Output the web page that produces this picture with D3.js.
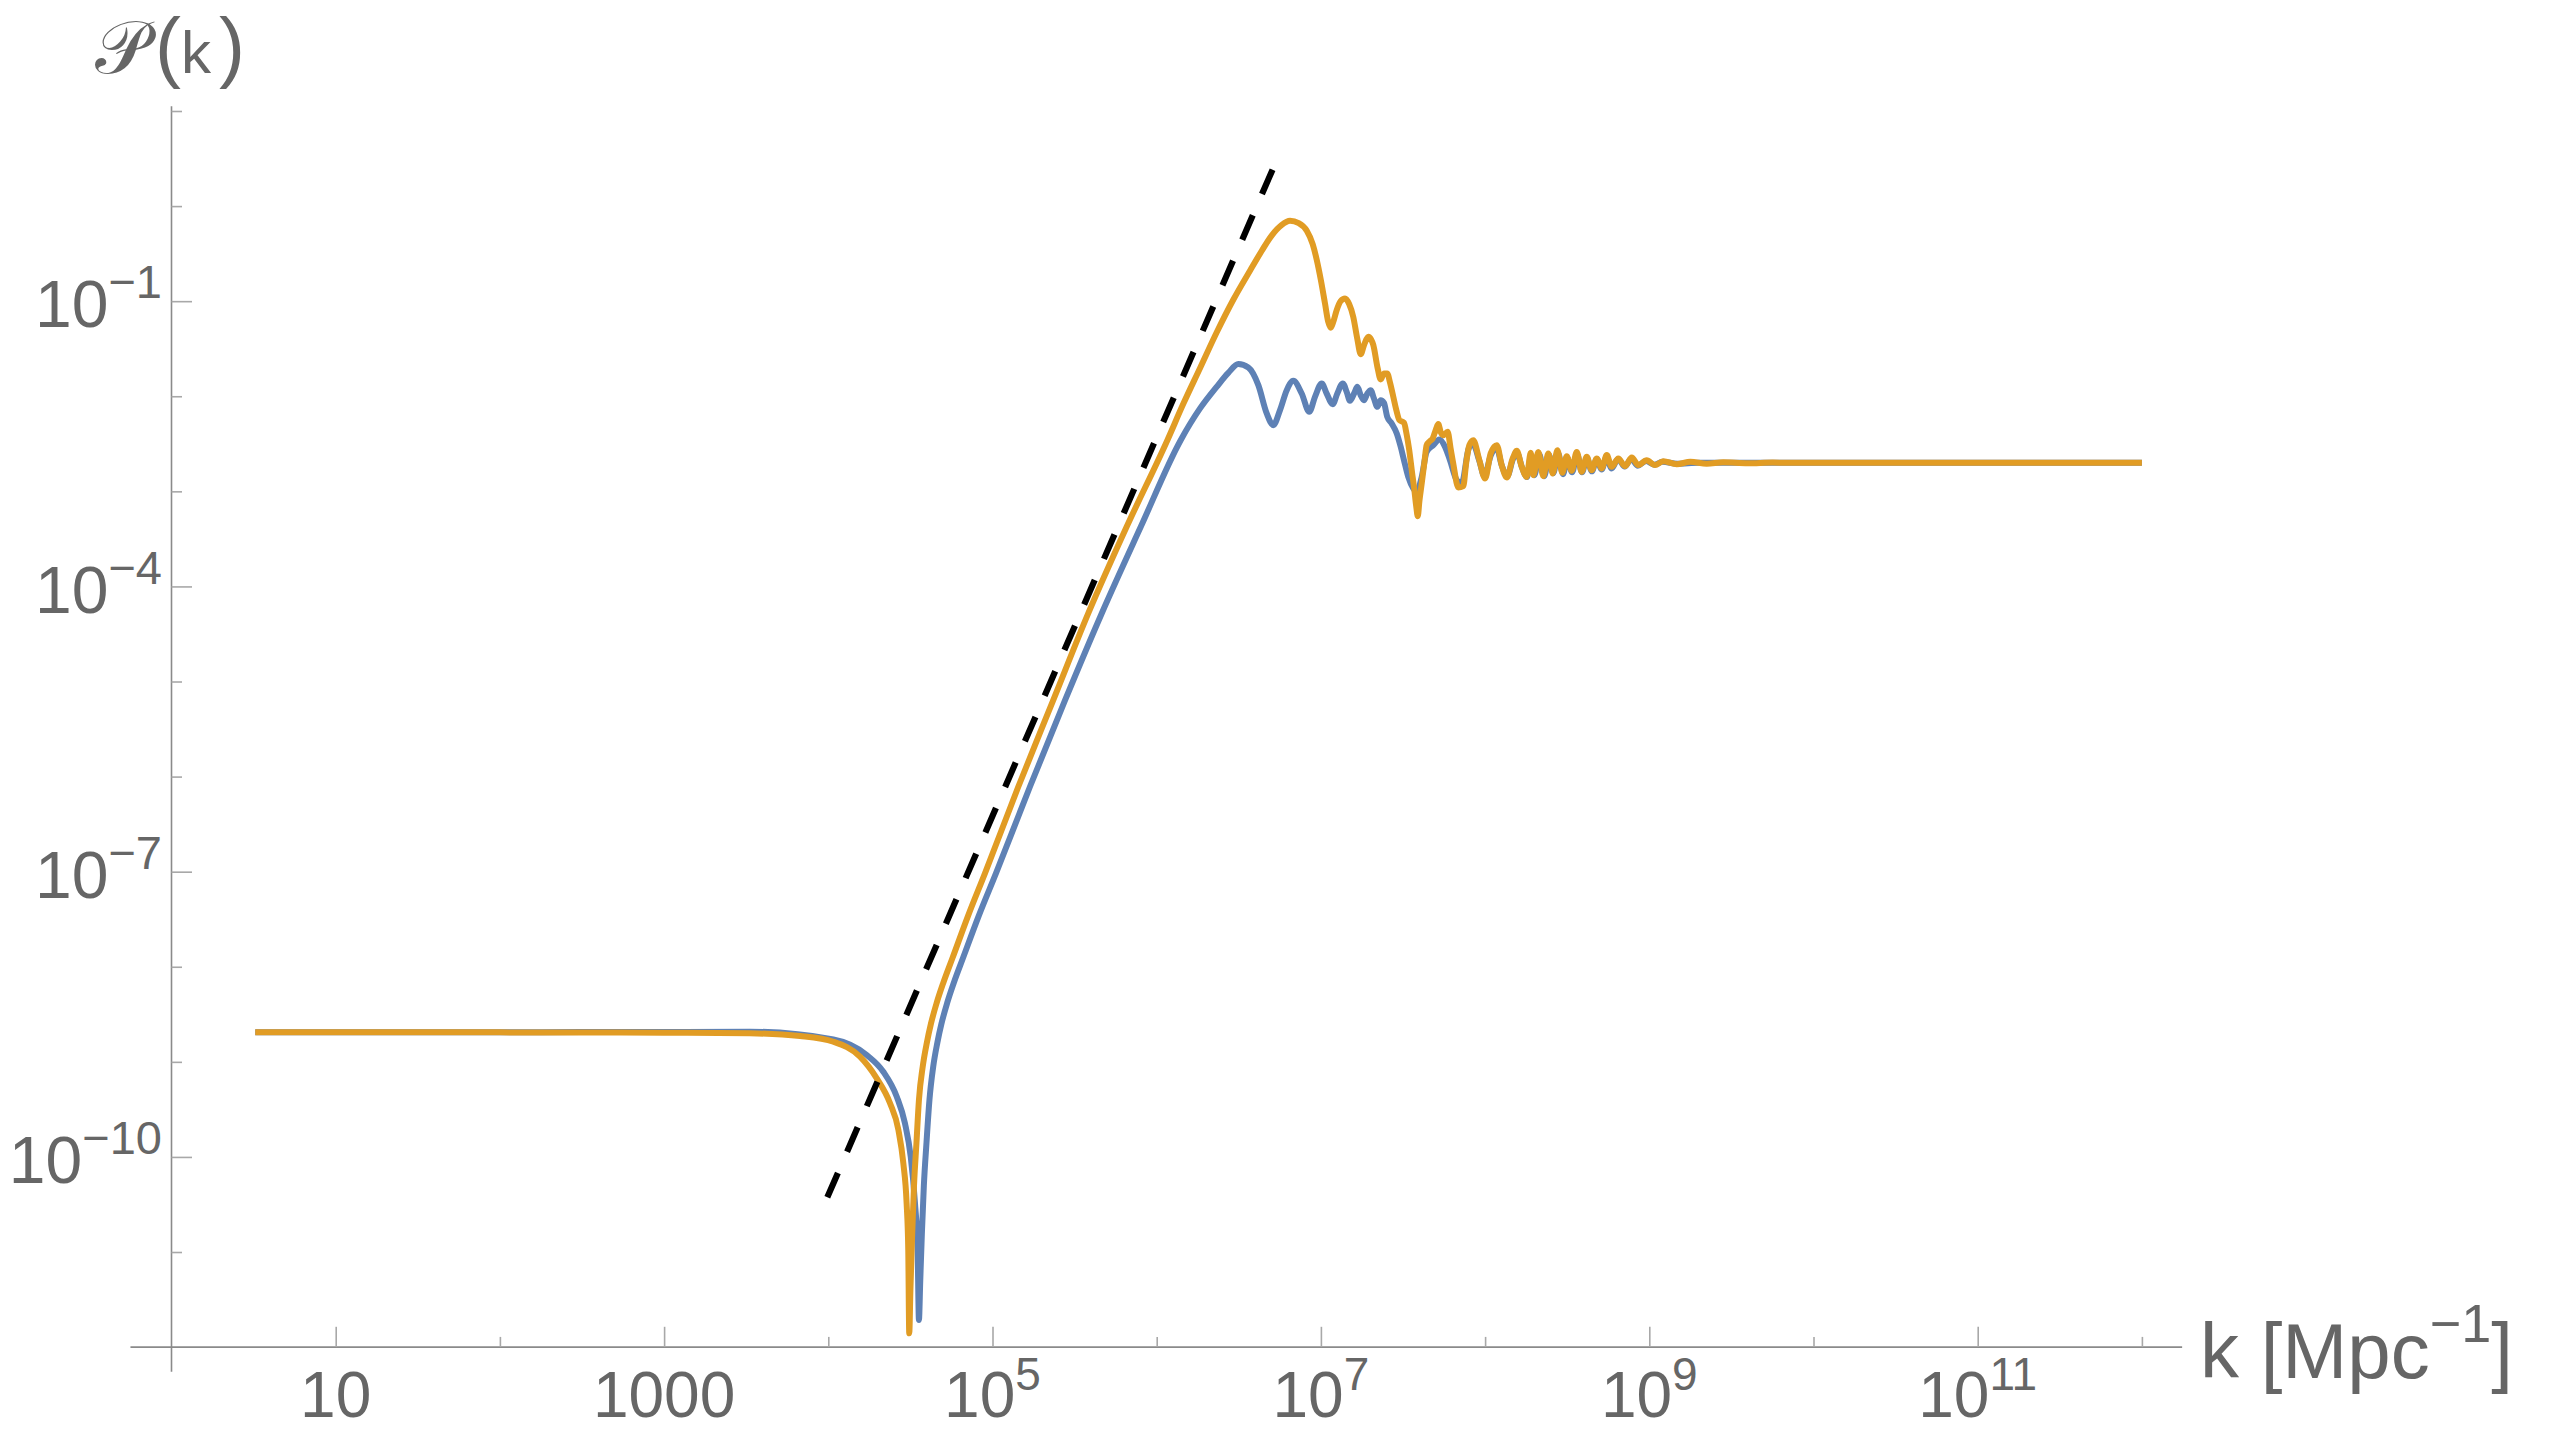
<!DOCTYPE html>
<html><head><meta charset="utf-8">
<script src="https://cdn.jsdelivr.net/npm/d3@7"></script>
<style>
html,body{margin:0;padding:0;background:#fff;}
svg{display:block;}
text{font-family:"Liberation Sans",Arial,Helvetica,sans-serif;fill:#666;}
</style></head><body>
<svg id="chart" width="2550" height="1431"></svg>
<script>
// ---- data (log10 values) ----
const xMajorExp = [1, 3, 5, 7, 9, 11];
const xMinorExp = [2, 4, 6, 8, 10, 12];
const yMajorExp = [-1, -4, -7, -10];
const yMinorExp = [1, 0, -2, -3, -5, -6, -8, -9, -11];
const xTickBase = ["10", "1000", "10", "10", "10", "10"];
const xTickSup  = ["", "", "5", "7", "9", "11"];
const yTickBase = ["10", "10", "10", "10"];
const yTickSup  = ["\u22121", "\u22124", "\u22127", "\u221210"];

// blue series: [log10 k, log10 P]
const blueLogK = [0.51,1.0,1.5,2.0,2.5,3.0,3.522,4.031,4.234,4.335,4.417,4.467,4.502,4.528,4.544,4.552,
 4.560,4.570,4.582,4.598,4.616,4.639,4.664,4.689,4.724,4.764,4.822,4.915,5.021,5.228,5.442,5.665,5.903,6.146,6.264,6.365,6.436,6.497,6.558,6.619,6.670,6.710,
 6.751,6.792,6.832,6.883,6.929,6.964,7.005,7.035,7.072,7.100,7.133,7.157,7.177,7.202,7.222,7.242,7.262,7.283,7.303,7.323,7.344,7.364,7.384,7.404,7.431,7.462,7.486,7.506,7.532,7.563,7.583,7.614,7.644,7.685,7.721,7.756,7.786,7.827,7.857,
 7.900,7.925,7.965,7.995,8.035,8.070,8.100,8.135,8.170,8.195,8.225,8.255,8.280,8.300,8.330,8.360,8.390,8.415,8.445,8.475,8.500,8.530,8.560,8.590,8.620,8.650,8.680,8.710,8.740,8.770,8.810,8.850,8.890,8.930,8.980,9.030,9.080,9.170,9.300,10.0,11.0,12.0];
const blueLogP = [-8.690,-8.690,-8.689,-8.688,-8.687,-8.686,-8.683,-8.764,-8.928,-9.104,-9.367,-9.647,-9.998,-10.488,-10.979,-11.715,
 -11.30,-10.80,-10.30,-9.85,-9.40,-9.05,-8.80,-8.60,-8.38,-8.17,-7.90,-7.47,-7.018,-6.107,-5.196,-4.284,-3.373,-2.462,-2.128,-1.901,-1.754,-1.662,-1.697,-1.883,-2.181,-2.304,
 -2.146,-1.936,-1.838,-1.971,-2.164,-2.006,-1.865,-1.971,-2.083,-1.971,-1.865,-1.953,-2.048,-1.971,-1.901,-1.988,-2.041,-1.971,-1.936,-2.023,-2.111,-2.041,-2.069,-2.217,-2.286,-2.391,-2.532,-2.672,-2.848,-2.970,-3.005,-2.848,-2.585,-2.514,-2.455,-2.532,-2.672,-2.882,-2.917,
 -2.55,-2.50,-2.68,-2.84,-2.62,-2.54,-2.72,-2.84,-2.66,-2.60,-2.75,-2.85,-2.62,-2.83,-2.61,-2.84,-2.62,-2.81,-2.60,-2.82,-2.65,-2.80,-2.61,-2.80,-2.65,-2.79,-2.66,-2.77,-2.64,-2.76,-2.66,-2.74,-2.66,-2.73,-2.68,-2.72,-2.69,-2.71,-2.70,-2.70,-2.70,-2.70];

// orange series: [log10 k, log10 P]
const orangeLogK = [0.51,1.0,1.5,2.0,2.5,3.0,3.522,3.828,4.031,4.193,4.295,4.376,4.427,4.457,4.477,4.487,4.493,
 4.500,4.510,4.522,4.537,4.552,4.575,4.600,4.625,4.660,4.700,4.758,4.850,4.954,5.157,5.370,5.583,5.817,6.065,6.162,6.265,6.365,6.468,6.568,6.640,6.700,6.760,6.812,6.865,6.914,6.950,6.974,7.000,7.025,7.045,7.060,7.075,7.096,7.120,7.147,7.172,7.197,7.222,7.242,7.265,7.289,7.305,7.319,7.345,7.364,7.385,7.404,7.420,7.441,7.460,7.478,7.506,7.522,7.538,7.555,7.567,7.580,7.590,7.600,7.614,7.630,7.644,7.665,7.681,7.700,7.715,7.730,7.745,7.772,7.790,7.806,7.837,7.867,7.885,7.904,7.928,7.965,8.000,8.034,8.071,8.101,8.132,8.168,8.193,8.223,8.253,8.278,
 8.294,8.324,8.354,8.385,8.412,8.440,8.470,8.497,8.527,8.558,8.588,8.619,8.649,8.680,8.710,8.741,8.771,8.811,8.852,8.893,8.933,8.984,9.035,9.085,9.167,9.250,9.350,9.450,9.600,9.750,9.900,10.5,11.0,12.0];
const orangeLogP = [-8.690,-8.690,-8.690,-8.690,-8.691,-8.693,-8.700,-8.729,-8.789,-8.946,-9.174,-9.436,-9.717,-10.067,-10.488,-10.979,-11.855,
 -11.40,-10.85,-10.30,-9.85,-9.40,-9.05,-8.80,-8.60,-8.38,-8.17,-7.90,-7.47,-7.018,-6.107,-5.196,-4.284,-3.373,-2.462,-2.08,-1.70,-1.33,-0.98,-0.68,-0.47,-0.31,-0.20,-0.155,-0.18,-0.26,-0.40,-0.56,-0.78,-1.025,-1.22,-1.28,-1.22,-1.095,-1.00,-0.972,-1.03,-1.165,-1.40,-1.557,-1.45,-1.375,-1.40,-1.46,-1.70,-1.823,-1.76,-1.760,-1.85,-2.006,-2.15,-2.251,-2.279,-2.40,-2.567,-2.80,-2.953,-3.15,-3.261,-3.10,-2.917,-2.70,-2.514,-2.47,-2.444,-2.35,-2.293,-2.38,-2.409,-2.374,-2.55,-2.707,-2.959,-2.945,-2.70,-2.514,-2.462,-2.672,-2.864,-2.601,-2.514,-2.724,-2.854,-2.654,-2.574,-2.742,-2.848,-2.595,
 -2.830,-2.585,-2.840,-2.602,-2.812,-2.567,-2.805,-2.630,-2.784,-2.585,-2.795,-2.637,-2.777,-2.654,-2.759,-2.619,-2.742,-2.654,-2.735,-2.644,-2.724,-2.672,-2.724,-2.683,-2.714,-2.690,-2.710,-2.695,-2.705,-2.698,-2.700,-2.700,-2.700,-2.700];

// dashed k^4 reference line endpoints
const boundLogK = [3.994, 6.706];
const boundLogP = [-10.425, 0.385];

// ---- drawing ----
const W = 2550, H = 1431;
const svg = d3.select("#chart");
svg.append("rect").attr("width", W).attr("height", H).attr("fill", "#fff");

const x = d3.scaleLog().domain([1, 1e12]).range([171.5, 2141.9]);
const y = d3.scaleLog().domain([1e-12, 10]).range([1347.1, 111.0]);
const x0 = x(1), y0 = y(1e-12);

const axisColor = "#8a8a8a", tickColor = "#a8a8a8";

// axis lines (extend a little past the plotted range)
svg.append("line").attr("x1", x(Math.pow(10, -0.25))).attr("x2", x(Math.pow(10, 12.245)))
  .attr("y1", y0).attr("y2", y0).attr("stroke", axisColor).attr("stroke-width", 1.6);
svg.append("line").attr("x1", x0).attr("x2", x0)
  .attr("y1", y(Math.pow(10, 1.05))).attr("y2", y(Math.pow(10, -12.26)))
  .attr("stroke", axisColor).attr("stroke-width", 1.6);

function styleAxis(g) {
  g.select(".domain").remove();
  g.selectAll(".tick line").attr("stroke", tickColor).attr("stroke-width", 1.6);
  g.selectAll(".tick text").remove();
}
svg.append("g").attr("transform", `translate(0,${y0})`)
  .call(d3.axisBottom(x).tickValues(xMajorExp.map(e => Math.pow(10, e))).tickSize(-20.3).tickFormat(""))
  .call(styleAxis);
svg.append("g").attr("transform", `translate(0,${y0})`)
  .call(d3.axisBottom(x).tickValues(xMinorExp.map(e => Math.pow(10, e))).tickSize(-10.2).tickFormat(""))
  .call(styleAxis);
svg.append("g").attr("transform", `translate(${x0},0)`)
  .call(d3.axisLeft(y).tickValues(yMajorExp.map(e => Math.pow(10, e))).tickSize(-20.5).tickFormat(""))
  .call(styleAxis);
svg.append("g").attr("transform", `translate(${x0},0)`)
  .call(d3.axisLeft(y).tickValues(yMinorExp.map(e => Math.pow(10, e))).tickSize(-10.5).tickFormat(""))
  .call(styleAxis);

// x tick labels
xMajorExp.forEach((e, i) => {
  const t = svg.append("text").attr("x", x(Math.pow(10, e))).attr("y", 1417)
    .attr("text-anchor", "middle").attr("font-size", 64);
  t.append("tspan").text(xTickBase[i]);
  if (xTickSup[i]) t.append("tspan").attr("font-size", 46).attr("dy", -27).text(xTickSup[i]);
});
// y tick labels
yMajorExp.forEach((e, i) => {
  const t = svg.append("text").attr("x", 162).attr("y", y(Math.pow(10, e)) + 26.3)
    .attr("text-anchor", "end").attr("font-size", 66);
  t.append("tspan").text(yTickBase[i]);
  t.append("tspan").attr("font-size", 47).attr("dy", -29).text(yTickSup[i]);
});

// axis titles
const xt = svg.append("text").attr("x", 2200).attr("y", 1378).attr("font-size", 78);
xt.append("tspan").text("k [Mpc");
xt.append("tspan").attr("font-size", 54).attr("dy", -36).text("\u22121");
xt.append("tspan").attr("dy", 36).text("]");

const yt = svg.append("text").attr("y", 73);
yt.append("tspan").attr("x", 95).attr("font-size", 74)
  .style("font-family", "'DejaVu Sans','DejaVu Serif','Noto Sans',sans-serif").text("\u{1D4AB}");
yt.append("tspan").attr("x", 155).attr("font-size", 78).text("(");
yt.append("tspan").attr("x", 181).attr("font-size", 60).text("k");
yt.append("tspan").attr("x", 219).attr("font-size", 78).text(")");

// curves
const line = d3.line()
  .x(d => x(Math.pow(10, d[0])))
  .y(d => y(Math.pow(10, d[1])))
  .curve(d3.curveMonotoneX);

const blue = d3.zip(blueLogK, blueLogP);
const orange = d3.zip(orangeLogK, orangeLogP);
svg.append("path").datum(blue).attr("d", line)
  .attr("fill", "none").attr("stroke", "#5E81B5").attr("stroke-width", 6)
  .attr("stroke-linejoin", "round").attr("stroke-linecap", "butt");
svg.append("path").datum(orange).attr("d", line)
  .attr("fill", "none").attr("stroke", "#E19C24").attr("stroke-width", 6)
  .attr("stroke-linejoin", "round").attr("stroke-linecap", "butt");

const bound = d3.zip(boundLogK, boundLogP);
svg.append("path").datum(bound).attr("d", d3.line().x(d => x(Math.pow(10, d[0]))).y(d => y(Math.pow(10, d[1]))))
  .attr("fill", "none").attr("stroke", "#000").attr("stroke-width", 6.2)
  .attr("stroke-dasharray", "26.6,23.1");
</script>
</body></html>
